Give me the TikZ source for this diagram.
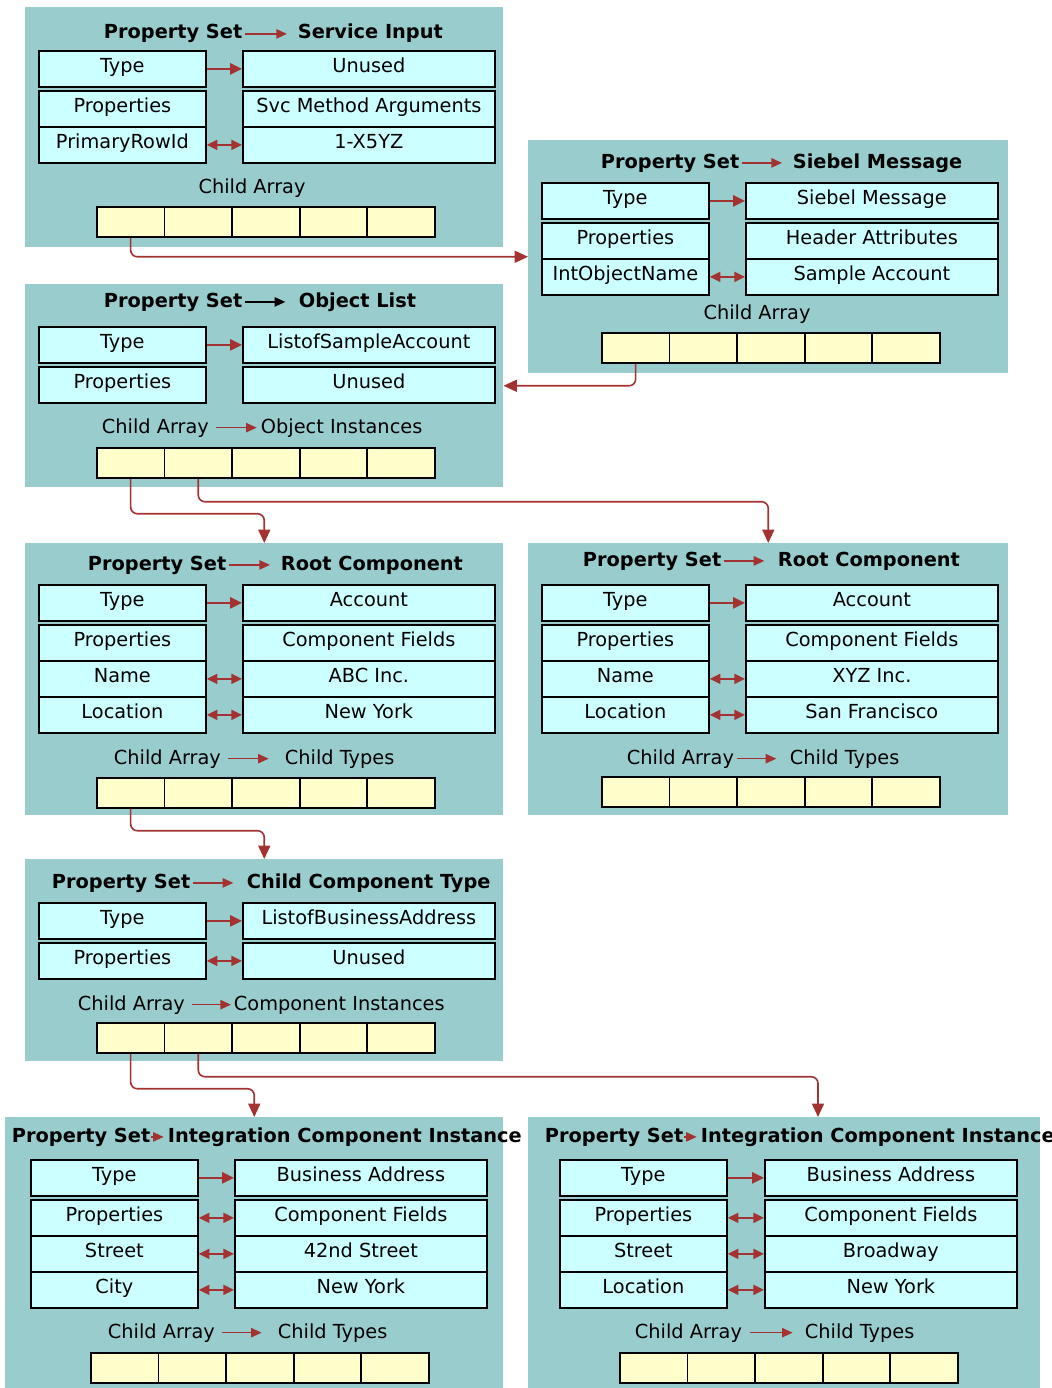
\documentclass[tikz,border=0pt]{standalone}
\usepackage{fontspec}
\setmainfont{DejaVu Sans}
\usetikzlibrary{arrows.meta}

\definecolor{painelcor}{HTML}{99CCCC}
\definecolor{campocor}{HTML}{CCFFFF}
\definecolor{celcor}{HTML}{FFFFCC}
\definecolor{setacor}{HTML}{A33333}

\begin{document}
\begin{tikzpicture}[x=0.75pt,y=-0.75pt,
  every node/.style={font=\fontsize{14.5}{17}\selectfont},
  painel/.style 2 args={fill=painelcor, anchor=north west, inner sep=0pt,
    minimum width=#1*0.75pt, minimum height=#2*0.75pt},
  campo/.style={draw=black, line width=1.3pt, fill=campocor, anchor=north west,
    minimum height=36*0.75pt, text height=0.73em, text depth=0.24em, inner sep=0pt},
  esq/.style={campo, minimum width=167*0.75pt},
  dir/.style={campo, minimum width=252*0.75pt},
  celula/.style={draw=black, line width=1.3pt, fill=celcor, anchor=north west,
    minimum width=67.6*0.75pt, minimum height=30*0.75pt, inner sep=0pt},
  titulo/.style={font=\fontsize{14.5}{17}\selectfont\bfseries, anchor=base west, inner sep=2pt},
  rotulo/.style={anchor=base west, inner sep=2pt},
  seta/.style={draw=setacor, line width=1.5pt, -{Triangle[length=9pt,width=8.5pt]}},
  dseta/.style={draw=setacor, line width=1.5pt, {Triangle[length=8pt,width=7.5pt]}-{Triangle[length=8pt,width=7.5pt]}},
  tseta/.style={draw=setacor, line width=1.2pt, -{Triangle[length=8pt,width=7pt]}, shorten >=6pt},
  liga/.style={draw=setacor, line width=1.2pt, rounded corners=5pt, -{Triangle[length=10pt,width=9pt]}}
]

\useasboundingbox (0,0) rectangle (1052,1388);
\clip (0,0) rectangle (1052,1388);

% Paineis
\node[painel={478}{240}] (p1) at (25,7) {};
\node[painel={480}{233}] (p2) at (528,140) {};
\node[painel={478}{203}] (p3) at (25,284) {};
\node[painel={478}{272}] (p4) at (25,543) {};
\node[painel={480}{272}] (p5) at (528,543) {};
\node[painel={478}{202}] (p6) at (25,859) {};
\node[painel={498}{271}] (p7) at (5,1117) {};
\node[painel={512}{271}] (p8) at (528,1117) {};
\coordinate (p8in) at (818,1117);

% Service Input
\node[titulo] (p1ps) at (101,39) {Property Set};
\node[titulo] (p1nm) at (295,39) {Service Input};
\draw[tseta] (p1ps.east) -- (p1nm.west |- p1ps.east);
\node[esq] (p1l1) at (38,50) {Type};
\node[dir] (p1r1) at (242,50) {Unused};
\node[esq] (p1l2) at (38,90) {Properties};
\node[dir] (p1r2) at (242,90) {Svc Method Arguments};
\node[esq] (p1l3) at (38,126) {PrimaryRowId};
\node[dir] (p1r3) at (242,126) {1-X5YZ};
\draw[seta] (p1l1) -- (p1r1);
\draw[dseta] (p1l3) -- (p1r3);
\node[rotulo, anchor=base] (p1ca) at (252,193) {Child Array};
\foreach \i in {1,...,5}
  \node[celula] (p1c\i) at ({96+(\i-1)*67.6},206) {};

% Siebel Message
\node[titulo] (p2ps) at (598,168) {Property Set};
\node[titulo] (p2nm) at (790,168) {Siebel Message};
\draw[tseta] (p2ps.east) -- (p2nm.west |- p2ps.east);
\node[esq] (p2l1) at (541,182) {Type};
\node[dir] (p2r1) at (745,182) {Siebel Message};
\node[esq] (p2l2) at (541,222) {Properties};
\node[dir] (p2r2) at (745,222) {Header Attributes};
\node[esq] (p2l3) at (541,258) {IntObjectName};
\node[dir] (p2r3) at (745,258) {Sample Account};
\draw[seta] (p2l1) -- (p2r1);
\draw[dseta] (p2l3) -- (p2r3);
\node[rotulo, anchor=base] (p2ca) at (757,319) {Child Array};
\foreach \i in {1,...,5}
  \node[celula] (p2c\i) at ({601+(\i-1)*67.6},332) {};

% Object List
\node[titulo] (p3ps) at (101,307) {Property Set};
\node[titulo] (p3nm) at (296,307) {Object List};
\draw[tseta, draw=black, shorten >=8pt] (p3ps.east) -- (p3nm.west |- p3ps.east);
\node[esq] (p3l1) at (38,326) {Type};
\node[dir] (p3r1) at (242,326) {ListofSampleAccount};
\node[esq] (p3l2) at (38,366) {Properties};
\node[dir] (p3r2) at (242,366) {Unused};
\draw[seta] (p3l1) -- (p3r1);
\node[rotulo] (p3ca) at (99,433) {Child Array};
\node[rotulo] (p3ct) at (258,433) {Object Instances};
\draw[tseta, shorten <=3pt, shorten >=1pt] (p3ca.east) -- (p3ct.west |- p3ca.east);
\foreach \i in {1,...,5}
  \node[celula] (p3c\i) at ({96+(\i-1)*67.6},447) {};

% Root Component (ABC)
\node[titulo] (p4ps) at (85,570) {Property Set};
\node[titulo] (p4nm) at (278,570) {Root Component};
\draw[tseta] (p4ps.east) -- (p4nm.west |- p4ps.east);
\node[esq] (p4l1) at (38,584) {Type};
\node[dir] (p4r1) at (242,584) {Account};
\node[esq] (p4l2) at (38,624) {Properties};
\node[dir] (p4r2) at (242,624) {Component Fields};
\node[esq] (p4l3) at (38,660) {Name};
\node[dir] (p4r3) at (242,660) {ABC Inc.};
\node[esq] (p4l4) at (38,696) {Location};
\node[dir] (p4r4) at (242,696) {New York};
\draw[seta] (p4l1) -- (p4r1);
\draw[dseta] (p4l3) -- (p4r3);
\draw[dseta] (p4l4) -- (p4r4);
\node[rotulo] (p4ca) at (111,764) {Child Array};
\node[rotulo] (p4ct) at (282,764) {Child Types};
\draw[tseta, shorten <=3pt, shorten >=10pt] (p4ca.east) -- (p4ct.west |- p4ca.east);
\foreach \i in {1,...,5}
  \node[celula] (p4c\i) at ({96+(\i-1)*67.6},777) {};

% Root Component (XYZ)
\node[titulo] (p5ps) at (580,566) {Property Set};
\node[titulo] (p5nm) at (775,566) {Root Component};
\draw[tseta, shorten >=8pt] (p5ps.east) -- (p5nm.west |- p5ps.east);
\node[esq] (p5l1) at (541,584) {Type};
\node[dir] (p5r1) at (745,584) {Account};
\node[esq] (p5l2) at (541,624) {Properties};
\node[dir] (p5r2) at (745,624) {Component Fields};
\node[esq] (p5l3) at (541,660) {Name};
\node[dir] (p5r3) at (745,660) {XYZ Inc.};
\node[esq] (p5l4) at (541,696) {Location};
\node[dir] (p5r4) at (745,696) {San Francisco};
\draw[seta] (p5l1) -- (p5r1);
\draw[dseta] (p5l3) -- (p5r3);
\draw[dseta] (p5l4) -- (p5r4);
\node[rotulo] (p5ca) at (624,764) {Child Array};
\node[rotulo] (p5ct) at (787,764) {Child Types};
\draw[tseta, shorten >=8pt] (p5ca.east) -- (p5ct.west |- p5ca.east);
\foreach \i in {1,...,5}
  \node[celula] (p5c\i) at ({601+(\i-1)*67.6},776) {};

% Child Component Type
\node[titulo] (p6ps) at (49,888) {Property Set};
\node[titulo] (p6nm) at (244,888) {Child Component Type};
\draw[tseta, shorten >=8pt] (p6ps.east) -- (p6nm.west |- p6ps.east);
\node[esq] (p6l1) at (38,902) {Type};
\node[dir] (p6r1) at (242,902) {ListofBusinessAddress};
\node[esq] (p6l2) at (38,942) {Properties};
\node[dir] (p6r2) at (242,942) {Unused};
\draw[seta] (p6l1) -- (p6r1);
\draw[dseta] (p6l2) -- (p6r2);
\node[rotulo] (p6ca) at (75,1010) {Child Array};
\node[rotulo] (p6ct) at (231,1010) {Component Instances};
\draw[tseta, shorten <=3pt, shorten >=0pt] (p6ca.east) -- (p6ct.west |- p6ca.east);
\foreach \i in {1,...,5}
  \node[celula] (p6c\i) at ({96+(\i-1)*67.6},1022) {};

% Integration Component Instance (42nd Street)
\node[titulo] (p7ps) at (9,1142) {Property Set};
\node[titulo] (p7nm) at (165,1142) {Integration Component Instance};
\draw[tseta, shorten <=-2pt, shorten >=1pt] (p7ps.east) -- (p7nm.west |- p7ps.east);
\node[esq] (p7l1) at (30,1159) {Type};
\node[dir] (p7r1) at (234,1159) {Business Address};
\node[esq] (p7l2) at (30,1199) {Properties};
\node[dir] (p7r2) at (234,1199) {Component Fields};
\node[esq] (p7l3) at (30,1235) {Street};
\node[dir] (p7r3) at (234,1235) {42nd Street};
\node[esq] (p7l4) at (30,1271) {City};
\node[dir] (p7r4) at (234,1271) {New York};
\draw[seta] (p7l1) -- (p7r1);
\draw[dseta] (p7l2) -- (p7r2);
\draw[dseta] (p7l3) -- (p7r3);
\draw[dseta] (p7l4) -- (p7r4);
\node[rotulo] (p7ca) at (105,1338) {Child Array};
\node[rotulo] (p7ct) at (275,1338) {Child Types};
\draw[tseta, shorten <=3pt, shorten >=10pt] (p7ca.east) -- (p7ct.west |- p7ca.east);
\foreach \i in {1,...,5}
  \node[celula] (p7c\i) at ({90+(\i-1)*67.6},1352) {};

% Integration Component Instance (Broadway)
\node[titulo] (p8ps) at (542,1142) {Property Set};
\node[titulo] (p8nm) at (698,1142) {Integration Component Instance};
\draw[tseta, shorten <=-2pt, shorten >=1pt] (p8ps.east) -- (p8nm.west |- p8ps.east);
\node[esq] (p8l1) at (559,1159) {Type};
\node[dir] (p8r1) at (764,1159) {Business Address};
\node[esq] (p8l2) at (559,1199) {Properties};
\node[dir] (p8r2) at (764,1199) {Component Fields};
\node[esq] (p8l3) at (559,1235) {Street};
\node[dir] (p8r3) at (764,1235) {Broadway};
\node[esq] (p8l4) at (559,1271) {Location};
\node[dir] (p8r4) at (764,1271) {New York};
\draw[seta] (p8l1) -- (p8r1);
\draw[dseta] (p8l2) -- (p8r2);
\draw[dseta] (p8l3) -- (p8r3);
\draw[dseta] (p8l4) -- (p8r4);
\node[rotulo] (p8ca) at (632,1338) {Child Array};
\node[rotulo] (p8ct) at (802,1338) {Child Types};
\draw[tseta, shorten <=4pt, shorten >=7pt] (p8ca.east) -- (p8ct.west |- p8ca.east);
\foreach \i in {1,...,5}
  \node[celula] (p8c\i) at ({619+(\i-1)*67.6},1352) {};

% Ligacoes entre os paineis
\draw[liga] (p1c1.south) |- (p2.west);
\draw[liga] (p2c1.south) |- (p3.east);
\draw[liga] (p3c1.south) -- ++(0,35) -| (p4.north);
\draw[liga] (p3c2.south) -- ++(0,23) -| (p5.north);
\draw[liga] (p4c1.south) -- ++(0,22) -| (p6.north);
\draw[liga] (p6c1.south) -- ++(0,35) -| (p7.north);
\draw[liga] (p6c2.south) -- ++(0,23) -| (p8in);

\end{tikzpicture}
\end{document}
